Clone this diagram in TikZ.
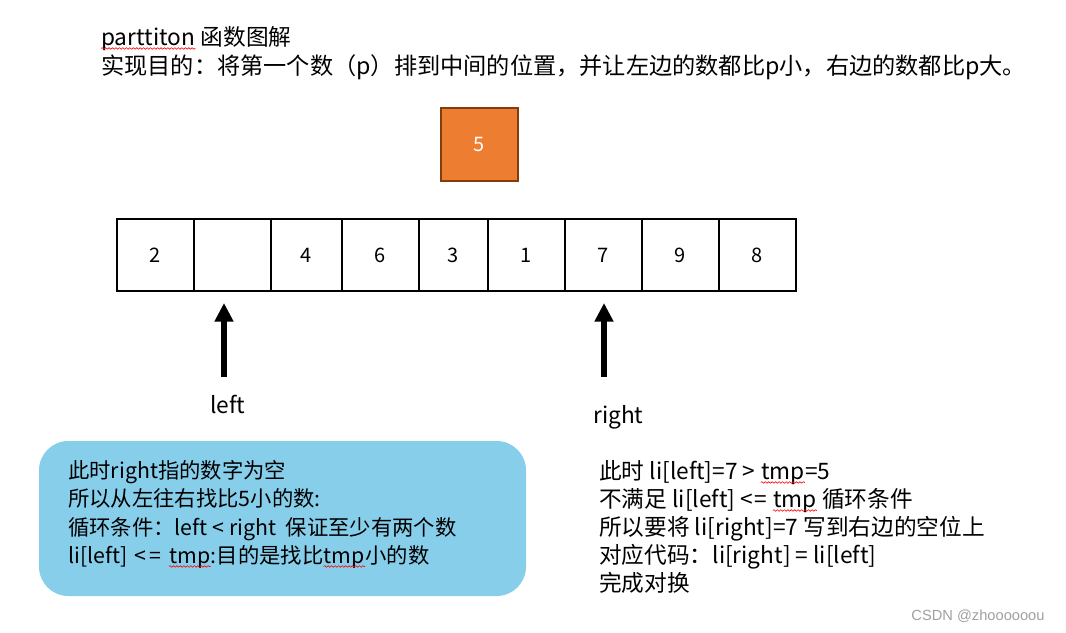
\documentclass[tikz,border=0pt]{standalone}
\usepackage{fontspec}
\setmainfont{Noto Sans CJK SC}
\newfontfamily\wmfont{Liberation Sans}
\usetikzlibrary{arrows.meta,decorations.pathmorphing}
\definecolor{orangefill}{HTML}{ED7D31}
\definecolor{orangeborder}{HTML}{843C0C}
\definecolor{skyfill}{HTML}{87CEEB}
\definecolor{wmgray}{HTML}{A0A0A0}
\tikzset{
  cell/.style={draw=black, line width=1.5pt, minimum height=72*0.75pt, inner sep=0pt, font=\fontsize{15}{18}\selectfont, anchor=north west},
  txt/.style={inner sep=0pt, anchor=base west, font=\fontsize{16}{20}\selectfont},
  rtxt/.style={inner sep=0pt, anchor=base west, font=\fontsize{17}{21}\selectfont},
  ptr/.style={line width=4.5pt, -{Triangle[length=14pt,width=13.5pt]}},
  spell/.style={draw=red, line width=0.45pt, decorate, decoration={snake, segment length=2.6pt, amplitude=0.6pt}},
}
\newcommand\wave[1]{\draw[spell] ([yshift=-2.6pt]#1.base west) -- ([yshift=-2.6pt]#1.base east);}
\begin{document}
\begin{tikzpicture}[x=0.75pt,y=-0.75pt]
\useasboundingbox (0,0) rectangle (1066,632);
% title
\node[rtxt] (t1a) at (101,45) {parttiton};
\node[rtxt] (t1b) at (t1a.base east) {\ 函数图解};
\node[inner sep=0pt, anchor=base west, font=\fontsize{17.4}{21}\selectfont] (t2) at (101,74) {实现目的：将第一个数（p）排到中间的位置，并让左边的数都比p小，右边的数都比p大。};
% pivot
\node[draw=orangeborder, fill=orangefill, line width=1.2pt, minimum width=77*0.75pt, minimum height=73*0.75pt, inner sep=0pt, text=white, font=\fontsize{15}{18}\selectfont] (piv) at (479.5,144.5) {5};
% array
\node[cell, minimum width=77*0.75pt] (c1) at (116,218) {2};
\node[cell, minimum width=77*0.75pt] (c2) at (193,218) {};
\node[cell, minimum width=71*0.75pt] (c3) at (270,218) {4};
\node[cell, minimum width=77*0.75pt] (c4) at (341,218) {6};
\node[cell, minimum width=69*0.75pt] (c5) at (418,218) {3};
\node[cell, minimum width=77*0.75pt] (c6) at (487,218) {1};
\node[cell, minimum width=77*0.75pt] (c7) at (564,218) {7};
\node[cell, minimum width=77*0.75pt] (c8) at (641,218) {9};
\node[cell, minimum width=77*0.75pt] (c9) at (718,218) {8};
% pointers
\coordinate (lt) at (224,377);
\coordinate (lh) at (224,303);
\coordinate (rt) at (604,377);
\coordinate (rh) at (604,303);
\draw[ptr] (lt) -- (lh);
\draw[ptr] (rt) -- (rh);
\node[rtxt] (ll) at (210,413) {left};
\node[rtxt] (rl) at (593,423) {right};
% blue box
\node[fill=skyfill, rounded corners=22pt, minimum width=487*0.75pt, minimum height=155*0.75pt, inner sep=0pt] (bb) at (282.5,518.5) {};
\node[txt] (b1) at (68,478) {此时right指的数字为空};
\node[txt] (b2) at (68,506) {所以从左往右找比5小的数:};
\node[txt] (b3) at (68,535) {循环条件：left < right\ \ 保证至少有两个数};
\node[txt] (b4a) at (68,563) {li[left]\kern2pt\ <\kern2pt=\kern2pt\ \null};
\node[txt] (b4b) at (b4a.base east) {tmp};
\node[txt] (b4c) at (b4b.base east) {:目的是找比};
\node[txt] (b4d) at (b4c.base east) {tmp};
\node[txt] (b4e) at (b4d.base east) {小的数};
% right text
\node[rtxt] (r1a) at (599,479) {此时 li[left]=7 >\ \null};
\node[rtxt] (r1b) at (r1a.base east) {tmp};
\node[rtxt] (r1c) at (r1b.base east) {=5};
\node[rtxt] (r2a) at (599,507) {不满足 li[left] <\kern1.5pt=\ \null};
\node[rtxt] (r2b) at (r2a.base east) {tmp};
\node[rtxt] (r2c) at (r2b.base east) {\ 循环条件};
\node[rtxt] (r3) at (599,535) {所以要将 li[right]=7 写到右边的空位上};
\node[rtxt] (r4) at (599,563) {对应代码：li[right] = li[left]};
\node[rtxt] (r5) at (599,591) {完成对换};
% spell-check marks
\wave{t1a}
\wave{b4b}
\wave{b4d}
\wave{r1b}
\wave{r2b}
% watermark
\node[inner sep=0pt, text=wmgray, font=\wmfont\fontsize{11}{13}\selectfont] (wm) at (978,616) {CSDN @zhoooooou};
\end{tikzpicture}
\end{document}
